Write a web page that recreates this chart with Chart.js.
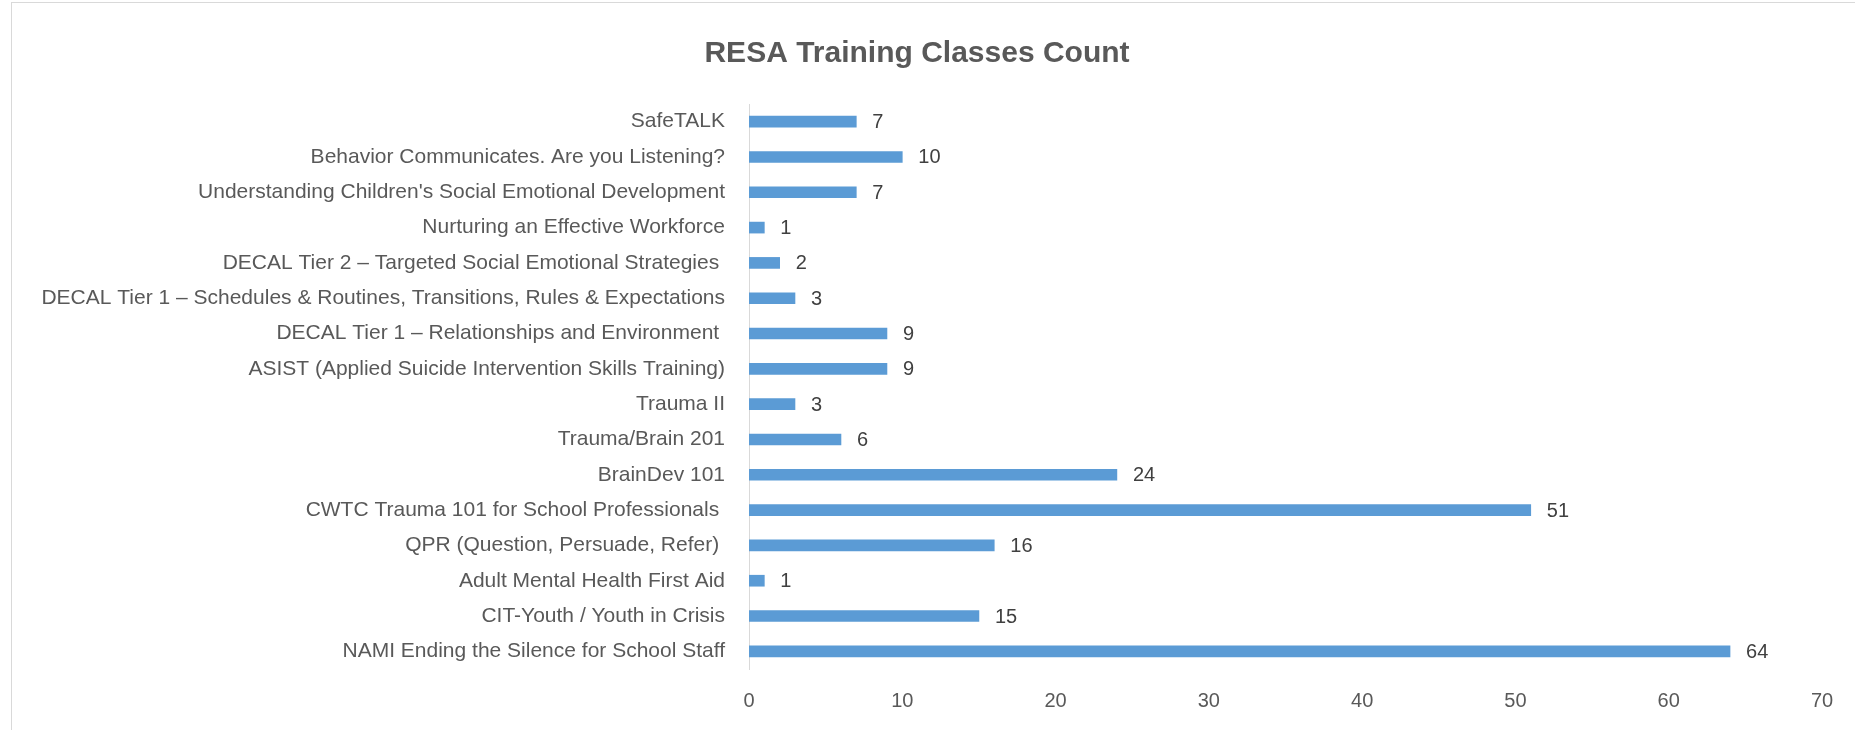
<!DOCTYPE html>
<html lang="en">
<head>
  <meta charset="UTF-8">
  <title>RESA Training Classes Count</title>
  <script src="https://cdn.jsdelivr.net/npm/chart.js"></script>
  <style>
    html, body { margin: 0; padding: 0; background: #fff; overflow: hidden; }
    #frame {
      position: absolute; left: 11px; top: 2px;
      width: 1854px; height: 727px;
      border-left: 1px solid #d9d9d9; border-top: 1px solid #d9d9d9;
    }
  </style>
</head>
<body>
  <div id="frame">
    <canvas id="resaChart" width="1854" height="727"></canvas>
  </div>

  <script>
    // course names, top to bottom (some have a trailing space in the source)
    const courses = [
      'SafeTALK',
      'Behavior Communicates. Are you Listening?',
      "Understanding Children's Social Emotional Development",
      'Nurturing an Effective Workforce',
      'DECAL Tier 2 – Targeted Social Emotional Strategies ',
      'DECAL Tier 1 – Schedules & Routines, Transitions, Rules & Expectations',
      'DECAL Tier 1 – Relationships and Environment ',
      'ASIST (Applied Suicide Intervention Skills Training)',
      'Trauma II',
      'Trauma/Brain 201',
      'BrainDev 101',
      'CWTC Trauma 101 for School Professionals ',
      'QPR (Question, Persuade, Refer) ',
      'Adult Mental Health First Aid',
      'CIT-Youth / Youth in Crisis',
      'NAMI Ending the Silence for School Staff'
    ];
    const classCounts = [7, 10, 7, 1, 2, 3, 9, 9, 3, 6, 24, 51, 16, 1, 15, 64];
    const xTicks = [0, 10, 20, 30, 40, 50, 60, 70];

    const FONT = "'Liberation Sans', Arial, sans-serif";

    // value labels at the end of each bar
    const valueLabels = {
      id: 'valueLabels',
      afterDatasetsDraw(chart) {
        const ctx = chart.ctx;
        const meta = chart.getDatasetMeta(0);
        ctx.save();
        ctx.font = '20px ' + FONT;
        ctx.fillStyle = '#404040';
        ctx.textAlign = 'left';
        ctx.textBaseline = 'middle';
        meta.data.forEach((bar, i) => {
          ctx.fillText(String(classCounts[i]), bar.x + 16, bar.y + 1);
        });
        ctx.restore();
      }
    };

    const ctx = document.getElementById('resaChart').getContext('2d');
    new Chart(ctx, {
      type: 'bar',
      data: {
        labels: courses,
        datasets: [{
          label: 'Count',
          data: classCounts,
          backgroundColor: '#5B9BD5',
          barThickness: 11
        }]
      },
      options: {
        indexAxis: 'y',
        responsive: false,
        devicePixelRatio: 1,
        animation: false,
        layout: { padding: { top: 13, right: 44, bottom: 0, left: 0 } },
        plugins: {
          legend: { display: false },
          tooltip: { enabled: false },
          title: {
            display: true,
            text: 'RESA Training Classes Count',
            color: '#595959',
            font: { family: FONT, size: 30, weight: 'bold' },
            padding: { top: 20, bottom: 32 }
          }
        },
        scales: {
          x: {
            min: 0,
            max: 70,
            afterBuildTicks(scale) {
              scale.ticks = xTicks.map(v => ({ value: v }));
            },
            afterFit(scale) { scale.height = 61; },
            grid: { display: false, drawTicks: false },
            border: { display: false },
            ticks: {
              color: '#595959',
              font: { family: FONT, size: 20 },
              padding: 20
            }
          },
          y: {
            afterFit(scale) { scale.width = 737; },
            grid: { display: false, drawTicks: false },
            border: { display: true, color: '#d9d9d9', width: 1 },
            ticks: {
              autoSkip: false,
              color: '#595959',
              font: { family: FONT, size: 21 },
              padding: 24
            }
          }
        }
      },
      plugins: [valueLabels]
    });
  </script>
</body>
</html>
